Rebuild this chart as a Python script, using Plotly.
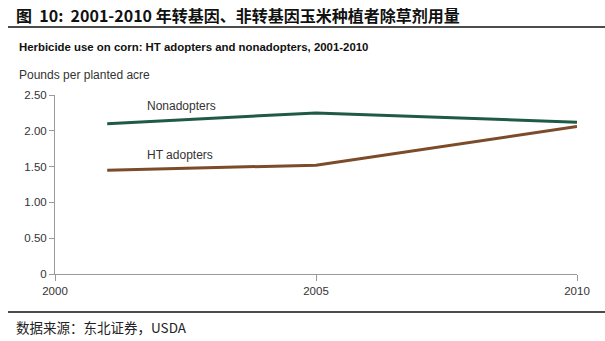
import plotly.graph_objects as go

# Herbicide use on corn (pounds per planted acre)
years = [2001, 2005, 2010]
nonadopters = [2.10, 2.25, 2.12]
ht_adopters = [1.45, 1.52, 2.06]

x_ticks = [2000, 2005, 2010]
y_ticks = [0, 0.5, 1.0, 1.5, 2.0, 2.5]
y_tick_text = ["0", "0.50", "1.00", "1.50", "2.00", "2.50"]

GREEN = "#1f5a46"
BROWN = "#7b4b2a"
AXIS = "#9a9a9a"
SANS = "Liberation Sans, Arial, sans-serif"
CJK = "Noto Sans CJK SC, sans-serif"

W, H = 605, 341
L, R, T, B = 55, 28, 95, 67
PW, PH = W - L - R, H - T - B


def px(x):
    """Pixel column -> paper x coordinate."""
    return (x - L) / PW


def py(y):
    """Pixel row -> paper y coordinate."""
    return (H - B - y) / PH


fig = go.Figure()
fig.add_trace(go.Scatter(x=years, y=nonadopters, mode="lines",
                         line=dict(color=GREEN, width=3), name="Nonadopters"))
fig.add_trace(go.Scatter(x=years, y=ht_adopters, mode="lines",
                         line=dict(color=BROWN, width=3), name="HT adopters"))

fig.update_layout(
    width=W, height=H,
    margin=dict(l=L, r=R, t=T, b=B),
    paper_bgcolor="white", plot_bgcolor="white",
    showlegend=False,
    xaxis=dict(range=[2000, 2010], tickvals=x_ticks, ticktext=[str(v) for v in x_ticks],
               showgrid=False, zeroline=False, showline=True, linecolor=AXIS, linewidth=1,
               ticks="outside", ticklen=6, tickcolor=AXIS,
               tickfont=dict(family=SANS, size=11.5, color="#333333")),
    yaxis=dict(range=[0, 2.5], tickvals=y_ticks, ticktext=y_tick_text,
               showgrid=False, zeroline=False, showline=True, linecolor=AXIS, linewidth=1,
               ticks="outside", ticklen=5, tickcolor=AXIS,
               tickfont=dict(family=SANS, size=11.5, color="#333333")),
)

# Series labels
fig.add_annotation(x=px(145), y=py(106), text="Nonadopters", showarrow=False,
                   xref="paper", yref="paper", xanchor="left", yanchor="middle",
                   font=dict(family=SANS, size=12, color="#333333"))
fig.add_annotation(x=px(145), y=py(155), text="HT adopters", showarrow=False,
                   xref="paper", yref="paper", xanchor="left", yanchor="middle",
                   font=dict(family=SANS, size=12, color="#333333"))

# Header, subtitle, axis caption, source
fig.add_annotation(x=px(14), y=py(15), xref="paper", yref="paper",
                   xanchor="left", yanchor="middle", showarrow=False,
                   text="<b>图  10:  2001-2010 年转基因、非转基因玉米种植者除草剂用量</b>",
                   font=dict(family=CJK, size=16, color="#111111"))
fig.add_annotation(x=px(17), y=py(47), xref="paper", yref="paper",
                   xanchor="left", yanchor="middle", showarrow=False,
                   text="<b>Herbicide use on corn: HT adopters and nonadopters, 2001-2010</b>",
                   font=dict(family=SANS, size=11.4, color="#111111"))
fig.add_annotation(x=px(17), y=py(75), xref="paper", yref="paper",
                   xanchor="left", yanchor="middle", showarrow=False,
                   text="Pounds per planted acre",
                   font=dict(family=SANS, size=12, color="#333333"))
fig.add_annotation(x=px(14), y=py(327), xref="paper", yref="paper",
                   xanchor="left", yanchor="middle", showarrow=False,
                   text="数据来源：东北证券，USDA",
                   font=dict(family=CJK, size=13.5, color="#222222"))

# Horizontal rules under the header and above the source
for row in (27, 312):
    fig.add_shape(type="line", xref="paper", yref="paper",
                  x0=px(8), x1=px(605), y0=py(row), y1=py(row),
                  line=dict(color="#111111", width=1.5))

fig.write_html("out.html")
